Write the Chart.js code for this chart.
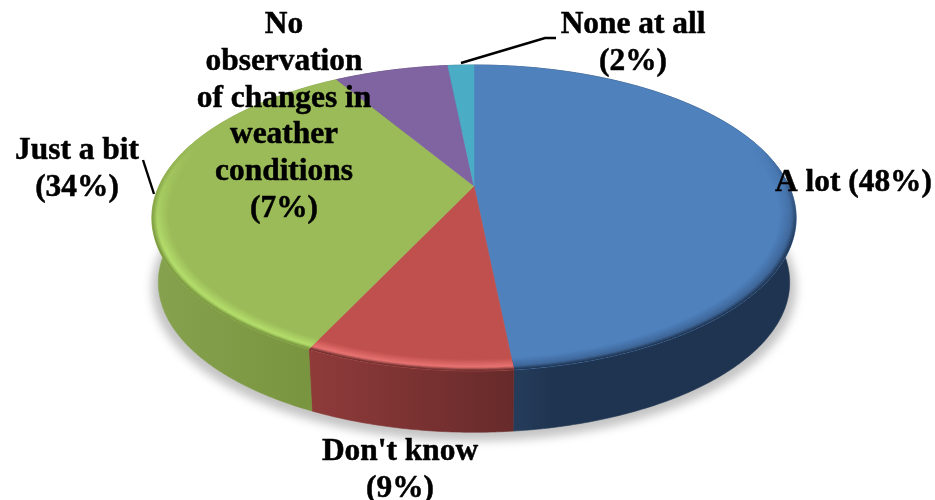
<!DOCTYPE html>
<html>
<head>
<meta charset="utf-8">
<style>html,body{margin:0;padding:0;background:#fff}canvas{display:block}</style>
<script src="https://cdn.jsdelivr.net/npm/chart.js@4"></script>
</head>
<body>
<canvas id="c" width="935" height="500"></canvas>
<script>
const categories = ["A lot", "Don't know", "Just a bit", "No observation of changes in weather conditions", "None at all"];
const shares = [48.4, 8.6, 34.4, 7.0, 1.6];

const topColors = ["#4f81bd", "#c0504d", "#9bbb59", "#8064a2", "#4bacc6"];
const wallColors = [["#2a4566", "#1f3450"], ["#8f3b3a", "#672a2a"], ["#86a24e", "#76923c"], ["#4d3c62", "#4d3c62"], ["#2d6777", "#2d6777"]];
const rimColors = ["#3f679a", "#e87472", "#b4de6c", "#8064a2", "#4bacc6"];

const labelStyle = 'bold 31.4px "Liberation Serif"';
const pct = shares.map(v => "(" + Math.round(v) + "%)");
const labelLayout = [
  {align: "left", x: 775, y: 191, lines: ["A lot " + pct[0]]},
  {align: "center", x: 400, y: 460, lines: ["Don't know", pct[1]]},
  {align: "center", x: 77, y: 159, lines: ["Just a bit", pct[2]]},
  {align: "center", x: 284, y: 33, lines: ["No", "observation", "of changes in", "weather", "conditions", pct[3]]},
  {align: "center", x: 633, y: 33, lines: ["None at all", pct[4]]}
];
const leaders = [
  [[143, 160], [154, 194]],
  [[461, 63], [545, 38], [556, 38]]
];

// perspective of the disc
const K = 0.209, A = 315, B = 146.3, CX = 474;
const TOP = {s: 1, y0: 186};
const BOTTOM = {s: 0.98, y0: 251};
function project(angle, r, plane) {
  const u = r * Math.cos(angle), v = -r * Math.sin(angle);
  const w = 1 + K * v;
  return [CX + plane.s * A * u / w, plane.y0 - plane.s * B * v / w];
}
function hex(c) { return [1, 3, 5].map(i => parseInt(c.substr(i, 2), 16)); }
function mix3(a, m, b, t, peak) {
  const pa = hex(a), pm = hex(m), pb = hex(b);
  return t < peak ? pa.map((x, i) => x + (pm[i] - x) * t / peak)
                  : pm.map((x, i) => x + (pb[i] - x) * (t - peak) / (1 - peak));
}
function arcPoints(a0, a1, r, plane) {
  const n = Math.max(2, Math.ceil((a1 - a0) / 0.01));
  const pts = [];
  for (let i = 0; i <= n; i++) pts.push(project(a0 + (a1 - a0) * i / n, r, plane));
  return pts;
}
function tracePoly(ctx, pts) {
  ctx.beginPath();
  pts.forEach((p, i) => i ? ctx.lineTo(p[0], p[1]) : ctx.moveTo(p[0], p[1]));
  ctx.closePath();
}

const disc3d = {
  id: "disc3d",
  beforeDatasetsDraw(chart) {
    const ctx = chart.ctx;
    const arcs = chart.getDatasetMeta(0).data;
    // ground shadow
    ctx.save();
    ctx.filter = "blur(5px)";
    ctx.fillStyle = "#c4c4c4";
    tracePoly(ctx, arcPoints(-Math.PI / 2, 1.5 * Math.PI, 1.0, {s: 1.0, y0: 256}));
    ctx.fill();
    ctx.restore();
    // outer walls
    arcs.forEach((arc, i) => {
      const a0 = arc.startAngle, a1 = arc.endAngle;
      const up = arcPoints(a0, a1, 1, TOP), low = arcPoints(a0, a1, 1, BOTTOM);
      const xs = up.concat(low).map(p => p[0]);
      const g = ctx.createLinearGradient(Math.min(...xs), 0, Math.max(...xs), 0);
      g.addColorStop(0, wallColors[i][0]);
      g.addColorStop(i === 0 ? 0.25 : 1, wallColors[i][1]);
      ctx.fillStyle = g;
      tracePoly(ctx, up.concat(low.reverse()));
      ctx.fill();
      ctx.strokeStyle = g;
      ctx.lineWidth = 0.6;
      ctx.stroke();
    });
    // top faces with soft rim
    arcs.forEach((arc, i) => {
      const a0 = arc.startAngle, a1 = arc.endAngle;
      const base = arc.options.backgroundColor;
      const sector = [project(0, 0, TOP)].concat(arcPoints(a0, a1, 1, TOP));
      ctx.fillStyle = base;
      ctx.strokeStyle = base;
      ctx.lineWidth = 0.6;
      tracePoly(ctx, sector);
      ctx.fill();
      ctx.stroke();
      ctx.save();
      tracePoly(ctx, sector);
      ctx.clip();
      ctx.lineWidth = 1.6;
      ctx.lineCap = "round";
      const rings = 16, inner = 0.95, step = 0.02;
      const wall = wallColors[i][1];
      const bb = hex(base);
      for (let j = 0; j < rings; j++) {
        const t = (j + 0.5) / rings;
        const r = inner + (1 - inner) * t;
        const c = mix3(base, rimColors[i], wall, t, 0.7);
        for (let a = a0; a < a1; a += step) {
          const b = Math.min(a + step, a1);
          const v = -Math.sin((a + b) / 2);
          const str = Math.max(0, Math.min(1, (0.3 - v) / 0.7));
          if (str <= 0) continue;
          const p = project(a, r, TOP), q = project(b, r, TOP);
          ctx.strokeStyle = "rgb(" + c.map((x, n) => Math.round(bb[n] + (x - bb[n]) * str)).join(",") + ")";
          ctx.beginPath();
          ctx.moveTo(p[0], p[1]);
          ctx.lineTo(q[0], q[1]);
          ctx.stroke();
        }
      }
      ctx.restore();
    });
    return false;
  },
  afterDraw(chart) {
    const ctx = chart.ctx;
    ctx.save();
    ctx.strokeStyle = "#000";
    ctx.lineWidth = 2.4;
    leaders.forEach(l => {
      ctx.beginPath();
      l.forEach((p, i) => i ? ctx.lineTo(p[0], p[1]) : ctx.moveTo(p[0], p[1]));
      ctx.stroke();
    });
    ctx.fillStyle = "#000";
    ctx.font = labelStyle;
    ctx.lineWidth = 0.5;
    ctx.lineJoin = "round";
    ctx.textBaseline = "alphabetic";
    labelLayout.forEach(l => {
      ctx.textAlign = l.align;
      l.lines.forEach((s, i) => {
        ctx.fillText(s, l.x, l.y + i * 36.8);
        ctx.strokeText(s, l.x, l.y + i * 36.8);
      });
    });
    ctx.restore();
  }
};

new Chart(document.getElementById("c"), {
  type: "pie",
  data: {
    labels: categories,
    datasets: [{data: shares, backgroundColor: topColors, borderWidth: 0}]
  },
  options: {
    responsive: false,
    animation: false,
    events: [],
    plugins: {legend: {display: false}, tooltip: {enabled: false}, title: {display: false}}
  },
  plugins: [disc3d]
});
</script>
</body>
</html>
